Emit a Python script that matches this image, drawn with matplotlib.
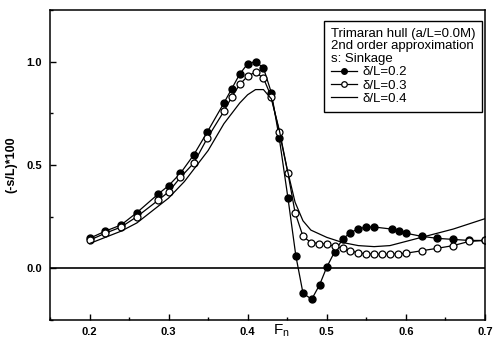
import numpy as np
import matplotlib
matplotlib.use('Agg')
import matplotlib.pyplot as plt
from matplotlib.ticker import MultipleLocator

plt.rcParams['font.family'] = ['Liberation Sans', 'DejaVu Sans']

# delta/L = 0.2 (filled circles)
fn_a = [0.20, 0.22, 0.24, 0.26, 0.287, 0.30, 0.315, 0.332, 0.349, 0.37, 0.38, 0.39,
        0.40, 0.41, 0.42, 0.43, 0.44, 0.451, 0.461, 0.47, 0.481, 0.491, 0.50, 0.51,
        0.52, 0.529, 0.539, 0.55, 0.56, 0.582, 0.591, 0.60, 0.62, 0.64, 0.66, 0.68, 0.70]
s_a = [0.145, 0.18, 0.21, 0.27, 0.36, 0.40, 0.46, 0.55, 0.66, 0.80, 0.87, 0.94,
       0.99, 1.00, 0.97, 0.85, 0.63, 0.34, 0.06, -0.12, -0.15, -0.08, 0.005, 0.08,
       0.14, 0.17, 0.19, 0.20, 0.20, 0.19, 0.18, 0.17, 0.155, 0.145, 0.14, 0.135, 0.135]

# delta/L = 0.3 (open circles)
fn_b = [0.20, 0.22, 0.24, 0.26, 0.287, 0.30, 0.315, 0.332, 0.349, 0.37, 0.38, 0.39,
        0.40, 0.41, 0.42, 0.43, 0.44, 0.451, 0.46, 0.47, 0.48, 0.49, 0.50, 0.51,
        0.52, 0.53, 0.54, 0.55, 0.56, 0.57, 0.58, 0.59, 0.60, 0.62, 0.64, 0.66, 0.68, 0.70]
s_b = [0.136, 0.17, 0.20, 0.25, 0.33, 0.37, 0.44, 0.51, 0.63, 0.76, 0.83, 0.89,
       0.93, 0.95, 0.92, 0.83, 0.66, 0.46, 0.27, 0.155, 0.125, 0.12, 0.117, 0.107,
       0.097, 0.085, 0.075, 0.07, 0.068, 0.068, 0.068, 0.07, 0.073, 0.085, 0.097, 0.11, 0.13, 0.135]

# delta/L = 0.4 (line only)
fn_c = [0.20, 0.22, 0.24, 0.26, 0.28, 0.30, 0.32, 0.33, 0.35, 0.37, 0.38, 0.39, 0.40,
        0.41, 0.42, 0.43, 0.44, 0.45, 0.46, 0.47, 0.48, 0.50, 0.52, 0.54, 0.56, 0.58,
        0.60, 0.62, 0.64, 0.66, 0.68, 0.70]
s_c = [0.12, 0.15, 0.18, 0.22, 0.28, 0.34, 0.42, 0.47, 0.57, 0.70, 0.75, 0.80, 0.84,
       0.865, 0.865, 0.82, 0.67, 0.48, 0.32, 0.23, 0.185, 0.15, 0.125, 0.11, 0.105, 0.11,
       0.13, 0.15, 0.17, 0.19, 0.215, 0.24]

fig = plt.figure(figsize=(4.93, 3.41), dpi=100)
ax = fig.add_axes([0.1014, 0.0616, 0.882, 0.909])

ax.plot(fn_a, s_a, '-o', color='black', lw=0.9, ms=5, mfc='black', mec='black',
        label='δ/L=0.2')
ax.plot(fn_b, s_b, '-o', color='black', lw=0.9, ms=5, mfc='white', mec='black',
        mew=0.9, label='δ/L=0.3')
ax.plot(fn_c, s_c, '-', color='black', lw=0.9, label='δ/L=0.4')
ax.axhline(0, color='black', lw=1.2, zorder=0)

ax.set_xlim(0.15, 0.70)
ax.set_ylim(-0.25, 1.25)
ax.xaxis.set_minor_locator(MultipleLocator(0.05))
ax.yaxis.set_minor_locator(MultipleLocator(0.25))
ax.set_xticks([0.2, 0.3, 0.4, 0.5, 0.6, 0.7])
ax.set_yticks([0.0, 0.5, 1.0])
ax.tick_params(which='both', direction='in', top=False, right=False, width=1)
ax.tick_params(which='major', length=4, labelsize=8)
ax.tick_params(axis='x', which='major', pad=5)
ax.tick_params(axis='y', which='major', pad=6)
ax.tick_params(which='minor', length=2.5)
for lab in ax.get_xticklabels() + ax.get_yticklabels():
    lab.set_fontweight('bold')
for sp in ax.spines.values():
    sp.set_linewidth(1.1)

ax.set_ylabel('(-s/L)*100', fontsize=9, fontweight='bold', labelpad=6)
ax.text(0.443, -0.008, 'F$_\\mathregular{n}$', transform=ax.get_xaxis_transform(),
        ha='center', va='top', fontsize=11)

leg = ax.legend(loc='upper right', bbox_to_anchor=(1.0, 0.972), borderaxespad=0.2,
                title='Trimaran hull (a/L=0.0M)\n2nd order approximation\ns: Sinkage',
                alignment='left', fontsize=9.5, title_fontproperties={'size': 9.5},
                handlelength=2.0, handletextpad=0.4, labelspacing=0.08, markerscale=0.8,
                fancybox=False, framealpha=1, edgecolor='black', borderpad=0.5)
leg.get_frame().set_linewidth(1.0)
leg.get_title().set_linespacing(1.05)
leg._legend_box.sep = 1

fig.savefig('out.png', dpi=100)
